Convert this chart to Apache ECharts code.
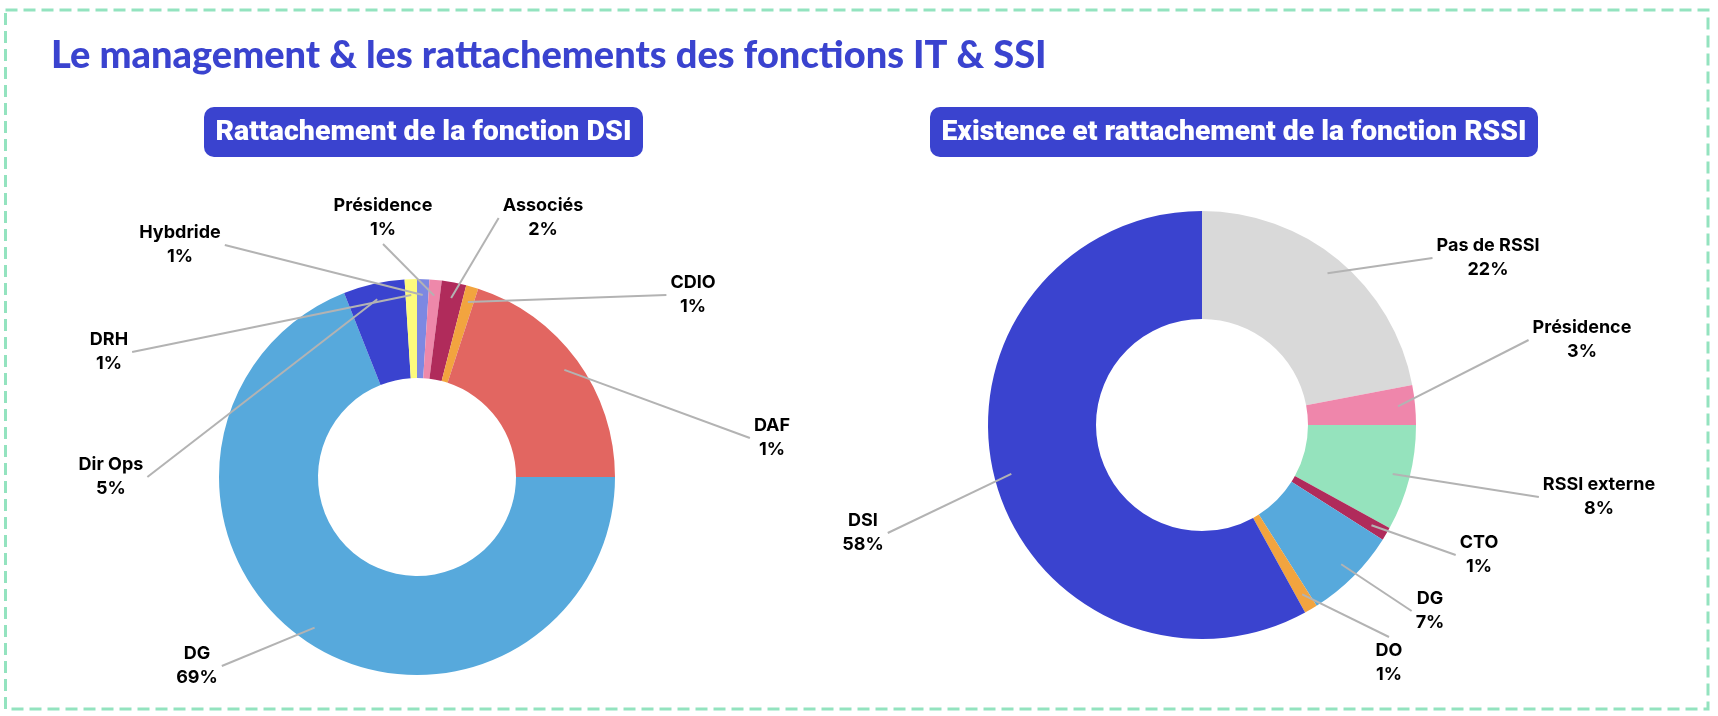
<!DOCTYPE html>
<html>
<head>
<meta charset="utf-8">
<title>Le management & les rattachements des fonctions IT & SSI</title>
<script src="https://cdn.jsdelivr.net/npm/echarts@6/dist/echarts.min.js"></script>
<style>
  html, body { margin: 0; padding: 0; background: #fff; }
  #chart { width: 1718px; height: 716px; }
</style>
</head>
<body>
<div id="chart"></div>
<script>
// Rattachement de la fonction DSI (slice sizes, in %)
var dsiNames = ['DG', 'Dir Ops', 'DRH', 'Hybdride', 'Présidence', 'Associés', 'CDIO', 'DAF'];
var dsiValues = [69, 5, 1, 1, 1, 2, 1, 20];
// percentages as printed on the labels (DAF is printed 1% in the source)
var dsiShown = ['69%', '5%', '1%', '1%', '1%', '2%', '1%', '1%'];

// Existence et rattachement de la fonction RSSI
var rssiNames = ['Pas de RSSI', 'Présidence', 'RSSI externe', 'CTO', 'DG', 'DO', 'DSI'];
var rssiValues = [22, 3, 8, 1, 7, 1, 58];
var rssiShown = rssiValues.map(function (v) { return v + '%'; });

var dsiColors = ['#57a9dc', '#3a43cf', '#fdfb7c', '#7d88e2', '#ee88aa', '#b02b5b', '#f2a43f', '#e26661'];
var rssiColors = ['#d9d9d9', '#ef86ab', '#95e3bd', '#b02b5b', '#57a9dc', '#f2a43f', '#3a43cf'];

// where each label block sits (pixels)
var dsiLabelPos = [[197, 666], [111, 477], [109, 352], [180, 245], [383, 218], [543, 218], [693, 295], [772, 438]];
var rssiLabelPos = [[1488, 258], [1582, 340], [1599, 497], [1479, 555], [1430, 611], [1389, 663], [863, 533]];

var dsiPie = { center: [417, 477], radius: [99, 198], startAngle: 0 };
var rssiPie = { center: [1202, 425], radius: [106, 214], startAngle: 90 };

var blue = '#3a43cf';
var labelFontFamily = 'Inter, "Noto Sans", sans-serif';
var labelSize = 18;
var boxFont = '900 28px Roboto, "Open Sans", sans-serif';

var measureCtx = document.createElement('canvas').getContext('2d');
function textWidth(text, font) {
    measureCtx.font = font;
    return measureCtx.measureText(text).width;
}
function fitScale(text, font, target) {
    var w = textWidth(text, font);
    return w > 0 ? target / w : 1;
}

function buildData(names, values, colors) {
    return names.map(function (n, i) {
        return { name: n, value: values[i], itemStyle: { color: colors[i] } };
    });
}

// mid angle of every slice, same convention as the pie (clockwise from startAngle)
function midAngles(values, startAngle) {
    var total = values.reduce(function (a, b) { return a + b; }, 0);
    var cum = 0;
    return values.map(function (v) {
        var a = startAngle - (cum + v / 2) / total * 360;
        cum += v;
        return a * Math.PI / 180;
    });
}

function pieSeries(data, pie, positions, formatter) {
    return {
        type: 'pie',
        center: pie.center,
        radius: pie.radius,
        startAngle: pie.startAngle,
        clockwise: true,
        avoidLabelOverlap: false,
        emphasis: { disabled: true },
        data: data,
        label: {
            show: true,
            position: 'outside',
            formatter: formatter,
            color: '#000',
            fontFamily: labelFontFamily,
            fontWeight: 'bold',
            fontSize: labelSize,
            lineHeight: 24,
            align: 'center'
        },
        labelLine: { show: false },
        labelLayout: function (p) {
            var pos = positions[p.dataIndex];
            return { x: pos[0], y: pos[1], align: 'center', verticalAlign: 'middle' };
        }
    };
}

// guide lines: from the nearest side of each label block to a point just inside its slice
function guideSeries(pie, values, names, shown, positions) {
    var mids = midAngles(values, pie.startAngle);
    var c = pie.center, r = pie.radius[1] * 0.92;
    var font = 'bold ' + labelSize + 'px ' + labelFontFamily;
    return {
        type: 'custom',
        coordinateSystem: 'none',
        silent: true,
        z: 3,
        data: values,
        renderItem: function (params) {
            var i = params.dataIndex;
            var pos = positions[i];
            var a = mids[i];
            var inner = [c[0] + r * Math.cos(a), c[1] - r * Math.sin(a)];
            var w = Math.max(textWidth(names[i], font), textWidth(shown[i], font)) / 2 + 4;
            var h = 24 + 2;
            var cands = [[pos[0] - w, pos[1]], [pos[0] + w, pos[1]], [pos[0], pos[1] - h], [pos[0], pos[1] + h]];
            var best = cands[0], bestD = Infinity;
            cands.forEach(function (q) {
                var d = Math.pow(q[0] - inner[0], 2) + Math.pow(q[1] - inner[1], 2);
                if (d < bestD) { bestD = d; best = q; }
            });
            return {
                type: 'polyline',
                shape: { points: [inner, best] },
                style: { stroke: '#b3b3b3', lineWidth: 2, fill: null }
            };
        }
    };
}

var dsiTitle = 'Rattachement de la fonction DSI';
var rssiTitle = 'Existence et rattachement de la fonction RSSI';

var option = {
    animation: false,
    backgroundColor: '#fff',
    graphic: [
        {
            type: 'rect',
            shape: { x: 5.5, y: 10, width: 1702.5, height: 699 },
            style: { fill: 'none', stroke: '#93e3bf', lineWidth: 3, lineDash: [12, 6] }
        },
        {
            type: 'text',
            x: 51,
            y: 56,
            style: {
                text: 'Le management & les rattachements des fonctions IT & SSI',
                fill: blue,
                font: '900 38px Lato, "Open Sans", sans-serif',
                verticalAlign: 'middle'
            }
        },
        {
            type: 'rect',
            shape: { x: 204, y: 107, width: 439, height: 50, r: 10 },
            style: { fill: blue }
        },
        {
            type: 'text',
            x: 423.5,
            y: 133,
            scaleX: fitScale(dsiTitle, boxFont, 416),
            style: {
                text: dsiTitle,
                fill: '#fff',
                font: boxFont,
                align: 'center',
                verticalAlign: 'middle'
            }
        },
        {
            type: 'rect',
            shape: { x: 930, y: 107, width: 608, height: 50, r: 10 },
            style: { fill: blue }
        },
        {
            type: 'text',
            x: 1234,
            y: 133,
            scaleX: fitScale(rssiTitle, boxFont, 585),
            style: {
                text: rssiTitle,
                fill: '#fff',
                font: boxFont,
                align: 'center',
                verticalAlign: 'middle'
            }
        }
    ],
    series: [
        pieSeries(buildData(dsiNames, dsiValues, dsiColors), dsiPie, dsiLabelPos,
            function (p) { return p.name + '\n' + dsiShown[p.dataIndex]; }),
        pieSeries(buildData(rssiNames, rssiValues, rssiColors), rssiPie, rssiLabelPos,
            function (p) { return p.name + '\n' + rssiShown[p.dataIndex]; }),
        guideSeries(dsiPie, dsiValues, dsiNames, dsiShown, dsiLabelPos),
        guideSeries(rssiPie, rssiValues, rssiNames, rssiShown, rssiLabelPos)
    ]
};

var myChart = echarts.init(document.getElementById('chart'));
myChart.setOption(option);
</script>
</body>
</html>
